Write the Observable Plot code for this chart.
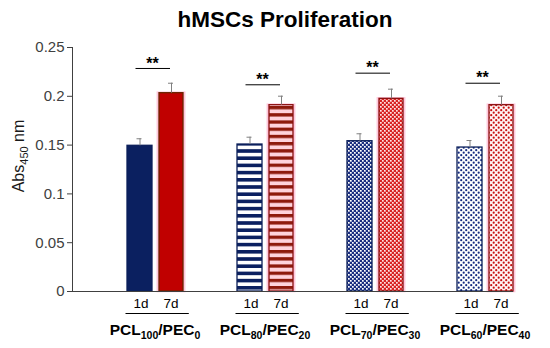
<!DOCTYPE html>
<html><head><meta charset="utf-8">
<script src="https://cdn.jsdelivr.net/npm/d3@7"></script>
<script src="https://cdn.jsdelivr.net/npm/@observablehq/plot@0.6"></script>
<style>
body{margin:0;background:#fff;font-family:"Liberation Sans",Arial,sans-serif;}
#title{box-sizing:border-box;height:34px;width:550px;padding:9px 0 0 20px;text-align:center;font-weight:bold;font-size:22.5px;line-height:22px;color:#000;}
#chart{width:550px;height:314px;}
</style></head><body>
<div id="title">hMSCs Proliferation</div>
<div id="chart"></div>
<script>
// ---- data ----
const groups = ["PCL100/PEC0", "PCL80/PEC20", "PCL70/PEC30", "PCL60/PEC40"];
const groupSubA = ["100", "80", "70", "60"];
const groupSubB = ["0", "20", "30", "40"];
const days = ["1d", "7d"];
const mean1d = [0.1493, 0.1506, 0.1540, 0.1475];
const sd1d = [0.0072, 0.0075, 0.0076, 0.0072];
const mean7d = [0.2032, 0.1909, 0.1974, 0.1909];
const sd7d = [0.0102, 0.0092, 0.0099, 0.0092];
const sigLevel = [0.2285, 0.2118, 0.2237, 0.2134];
const sigText = ["**", "**", "**", "**"];
const yTicks = [0, 0.05, 0.1, 0.15, 0.2, 0.25];
const yTickLabels = ["0", "0.05", "0.1", "0.15", "0.2", "0.25"];
const yLabelParts = ["Abs", "450", " nm"];

// ---- styles ----
const fill1d = ["#0b2060", "url(#p-stripe-b)", "url(#p-check-b)", "url(#p-dots-b)"];
const fill7d = ["#c00000", "url(#p-stripe-r)", "url(#p-check-r)", "url(#p-dots-r)"];
const stroke7d = ["#6b2400", "#8b1010", "#8b1010", "#8b1010"];

const rows1 = groups.map((g, i) => ({group: g, i, day: days[0], mean: mean1d[i], sd: sd1d[i]}));
const rows7 = groups.map((g, i) => ({group: g, i, day: days[1], mean: mean7d[i], sd: sd7d[i]}));
const sigRows = groups.map((g, i) => ({group: g, level: sigLevel[i], label: sigText[i]}));

const errColor = "#808080";
const chart = Plot.plot({
  width: 550, height: 314,
  marginLeft: 72, marginRight: 37, marginTop: 13, marginBottom: 57,
  style: {fontFamily: '"Liberation Sans", Arial, sans-serif', fontSize: "15px", color: "#404040", background: "#fff"},
  x: {domain: groups, range: [99.5, 539.5], padding: 0, axis: null},
  y: {domain: [0, 0.25], ticks: yTicks, tickFormat: (d, i) => yTickLabels[i], tickSize: 5, tickPadding: 3, label: null, line: true},
  color: {type: "identity"},
  marks: [
    Plot.barY(rows7, {x: "group", y: "mean", insetLeft: 57.8, insetRight: 25.8, fill: "none", stroke: "#ffc8dc", strokeWidth: 2.5}),
    Plot.barY(rows1, {x: "group", y: "mean", insetLeft: 27, insetRight: 58, fill: d => fill1d[d.i], stroke: "#0b1f5a", strokeWidth: 1.3}),
    Plot.barY(rows7, {x: "group", y: "mean", insetLeft: 59, insetRight: 27, fill: d => fill7d[d.i], stroke: d => stroke7d[d.i], strokeWidth: 1.3}),
    Plot.ruleY([0], {stroke: "#404040"}),
    Plot.ruleX(rows1, {x: "group", y1: "mean", y2: d => d.mean + d.sd, dx: -15.5, stroke: errColor}),
    Plot.ruleX(rows7, {x: "group", y1: "mean", y2: d => d.mean + d.sd, dx: 16, stroke: errColor}),
    Plot.tickY(rows1, {x: "group", y: d => d.mean + d.sd, insetLeft: 36.5, insetRight: 68.5, stroke: errColor}),
    Plot.tickY(rows7, {x: "group", y: d => d.mean + d.sd, insetLeft: 68, insetRight: 37, stroke: errColor}),
    Plot.tickY(sigRows, {x: "group", y: "level", insetLeft: 35.5, insetRight: 40, stroke: "#000"}),
    Plot.text(sigRows, {x: "group", y: "level", text: "label", dx: -3, dy: -5, fontSize: 16, fontWeight: "bold", fill: "#000"}),
    Plot.text(rows1, {x: "group", y: 0, text: "day", dx: -14.5, dy: 12, fontSize: 13.5, fill: "#000"}),
    Plot.text(rows7, {x: "group", y: 0, text: "day", dx: 15.5, dy: 12, fontSize: 13.5, fill: "#000"}),
    Plot.tickY(groups, {x: d => d, y: () => 0, dy: 22, insetLeft: 25.5, insetRight: 21.2, stroke: "#000"})
  ]
});

const svg = d3.select(chart);
svg.selectAll('g[aria-label="y-axis tick label"]').attr("font-size", 15).style("font-size", "15px");
const defs = svg.insert("defs", ":first-child");
function stripe(id, bg, fg, h, band) {
  const p = defs.append("pattern").attr("id", id).attr("patternUnits", "userSpaceOnUse").attr("width", 6).attr("height", h);
  p.append("rect").attr("width", 6).attr("height", h).attr("fill", bg);
  p.append("rect").attr("width", 6).attr("height", band).attr("fill", fg);
}
function check(id, bg, fg, s) {
  const p = defs.append("pattern").attr("id", id).attr("patternUnits", "userSpaceOnUse").attr("width", 4).attr("height", 4);
  p.append("rect").attr("width", 4).attr("height", 4).attr("fill", bg);
  p.append("rect").attr("x", 0).attr("y", 0).attr("width", s).attr("height", s).attr("fill", fg);
  p.append("rect").attr("x", 2).attr("y", 2).attr("width", s).attr("height", s).attr("fill", fg);
}
function dots(id, bg, fg) {
  const p = defs.append("pattern").attr("id", id).attr("patternUnits", "userSpaceOnUse").attr("width", 5).attr("height", 5);
  p.append("rect").attr("width", 5).attr("height", 5).attr("fill", bg);
  p.append("circle").attr("cx", 1.2).attr("cy", 1.2).attr("r", 1.1).attr("fill", fg);
  p.append("circle").attr("cx", 3.7).attr("cy", 3.7).attr("r", 1.1).attr("fill", fg);
}
stripe("p-stripe-b", "#ffffff", "#0b2060", 7.2, 3.6);
stripe("p-stripe-r", "#ffd3dc", "#8e1a0c", 7.2, 3.3);
check("p-check-b", "#1a2e80", "#ffffff", 1.7);
check("p-check-r", "#d82424", "#ffe4e4", 1.7);
dots("p-dots-b", "#ffffff", "#142a80");
dots("p-dots-r", "#fff2f2", "#c81010");

const xs = chart.scale("x");
const labels = svg.append("g").attr("font-family", '"Liberation Sans", Arial, sans-serif').attr("font-weight", "bold").attr("fill", "#000");
groups.forEach((g, i) => {
  const cx = xs.apply(g) + xs.bandwidth / 2;
  const t = labels.append("text").attr("x", cx).attr("y", 301).attr("text-anchor", "middle").attr("font-size", 15.5);
  t.append("tspan").text("PCL");
  t.append("tspan").attr("font-size", 10.5).attr("dy", 4).text(groupSubA[i]);
  t.append("tspan").attr("dy", -4).text("/PEC");
  t.append("tspan").attr("font-size", 10.5).attr("dy", 4).text(groupSubB[i]);
});
const yl = svg.append("text").attr("transform", "translate(24,122) rotate(-90)").attr("text-anchor", "middle")
  .attr("font-family", '"Liberation Sans", Arial, sans-serif').attr("font-size", 16).attr("fill", "#1a1a1a");
yl.append("tspan").text(yLabelParts[0]);
yl.append("tspan").attr("font-size", 11).attr("dy", 4).text(yLabelParts[1]);
yl.append("tspan").attr("dy", -4).text(yLabelParts[2]);

document.getElementById("chart").appendChild(chart);
</script>
</body></html>
